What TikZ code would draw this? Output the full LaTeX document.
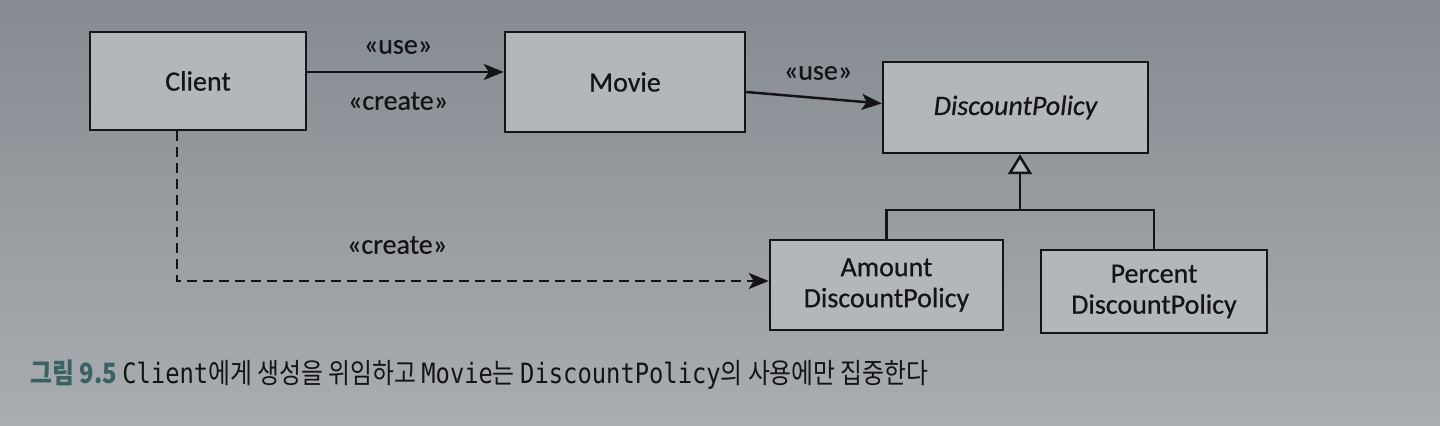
\documentclass[tikz,border=0pt]{standalone}
\usepackage{fontspec}
\setmainfont{Carlito}
\newfontfamily\kr{Noto Sans CJK KR}
\newfontfamily\mono{DejaVu Sans Mono}
\usetikzlibrary{arrows.meta}
\definecolor{bgA}{RGB}{134,139,145}
\definecolor{bgB}{RGB}{170,173,176}
\definecolor{boxfill}{RGB}{180,183,186}
\definecolor{ink}{RGB}{20,20,24}
\definecolor{capteal}{RGB}{58,98,98}
\tikzset{
  cls/.style={draw=ink, line width=1.25pt, fill=boxfill, text=ink, font=\fontsize{14}{15.5}\selectfont\addfontfeature{FakeBold=0.6}, align=center, inner sep=0pt},
  lbl/.style={text=ink, font=\fontsize{14}{16}\selectfont\addfontfeature{FakeBold=0.5}},
  arr/.style={draw=ink, line width=1.25pt, -{Stealth[length=10pt,width=8pt,inset=2.5pt]}},
  dsh/.style={draw=ink, line width=1.25pt, dash pattern=on 5pt off 3pt, -{Stealth[length=10pt,width=8pt,inset=2.5pt]}},
  gen/.style={draw=ink, line width=1.25pt},
  genarr/.style={draw=ink, line width=1.25pt, -{Triangle[open,length=10pt,width=12pt,fill=boxfill]}}
}
\begin{document}
\begin{tikzpicture}[x=0.5pt,y=-0.5pt]
\shade[top color=bgA, bottom color=bgB] (0,0) rectangle (1440,426);
\useasboundingbox (0,0) rectangle (1440,426);

\node[cls, minimum width=108pt, minimum height=49pt] (client) at (198,81) {Client};
\node[cls, minimum width=120pt, minimum height=50pt] (movie) at (625,82) {Movie};
\node[cls, minimum width=132.5pt, minimum height=45.5pt] (dp) at (1015.5,107.5) {\itshape\addfontfeature{FakeBold=0.6}DiscountPolicy};
\node[cls, minimum width=116.5pt, minimum height=45pt] (amount) at (886.5,285) {Amount\\DiscountPolicy};
\node[cls, minimum width=113pt, minimum height=41.5pt] (percent) at (1154,291.5) {Percent\\DiscountPolicy};

\draw[arr] ([yshift=4.5pt]client.east) -- ([yshift=4.5pt]client.east -| movie.west);
\node[lbl] (use1) at (398,47) {«use»};
\node[lbl] (create1) at (398,101) {«create»};

\draw[arr] ([yshift=-5pt]movie.east) -- ([yshift=2pt]dp.west);
\node[lbl] (use2) at (818,73) {«use»};

\coordinate (j) at (1020,210);
\draw[genarr] (j) -- (j |- dp.south);
\draw[gen] (amount.north) -- (amount.north |- j) -- (percent.north |- j) -- (percent.north);

\draw[dsh] ([xshift=-10.5pt]client.south) |- ([yshift=2pt]amount.west);
\node[lbl] (create2) at (397,245) {«create»};

\node[anchor=west, inner sep=0pt] (cap) at (30,375) {\scalebox{0.85}[1]{\fontsize{14}{16}\selectfont\kr{\color{capteal}\bfseries 그림 9.5} \color{ink}{\mono Client}에게 생성을 위임하고 {\mono Movie}는 {\mono DiscountPolicy}의 사용에만 집중한다}};
\end{tikzpicture}
\end{document}
